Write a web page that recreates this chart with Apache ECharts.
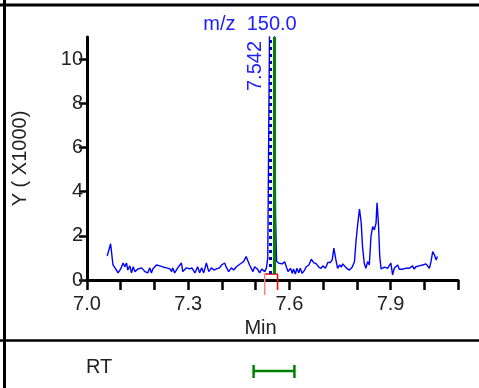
<!DOCTYPE html>
<html>
<head>
<meta charset="utf-8">
<script src="https://cdn.jsdelivr.net/npm/echarts@6/dist/echarts.min.js"></script>
<style>
  html, body { margin: 0; padding: 0; background: #fff; }
  #chart { width: 479px; height: 388px; }
</style>
</head>
<body>
<div id="chart"></div>
<script>
// 保留时间 (min)
const rtMin = [
  7.060, 7.070, 7.077, 7.085, 7.092, 7.100, 7.107, 7.112, 7.117, 7.121, 7.127, 7.132, 7.137, 7.142, 7.151,
  7.162, 7.172, 7.180, 7.186, 7.191, 7.195, 7.206, 7.216, 7.225, 7.236, 7.246, 7.251, 7.254, 7.260, 7.269,
  7.280, 7.284, 7.295, 7.305, 7.311, 7.320, 7.328, 7.334, 7.340, 7.346, 7.354, 7.361, 7.369, 7.376, 7.384,
  7.393, 7.399, 7.408, 7.413, 7.420, 7.428, 7.435, 7.443, 7.450, 7.458, 7.464, 7.472, 7.476, 7.482, 7.487,
  7.492, 7.497, 7.505, 7.512, 7.518, 7.527, 7.532, 7.536, 7.540, 7.545, 7.550, 7.555, 7.559, 7.562, 7.569,
  7.573, 7.579, 7.586, 7.591, 7.596, 7.603, 7.609, 7.612, 7.618, 7.622, 7.628, 7.632, 7.638, 7.645, 7.650,
  7.658, 7.665, 7.672, 7.680, 7.687, 7.694, 7.699, 7.707, 7.714, 7.721, 7.727, 7.732, 7.737, 7.743, 7.749,
  7.754, 7.758, 7.763, 7.770, 7.778, 7.786, 7.793, 7.798, 7.803, 7.808, 7.813, 7.817, 7.822, 7.827, 7.832,
  7.837, 7.842, 7.847, 7.852, 7.857, 7.860, 7.864, 7.868, 7.872, 7.877, 7.882, 7.887, 7.891, 7.896, 7.901,
  7.906, 7.911, 7.916, 7.921, 7.926, 7.931, 7.936, 7.941, 7.946, 7.951, 7.956, 7.961, 7.965, 7.970, 7.975,
  7.980, 7.985, 7.990, 7.995, 8.000, 8.005, 8.010, 8.015, 8.020, 8.025, 8.030, 8.035, 8.039
];
// 强度 (x1000)
const intensity = [
  1.09, 1.64, 0.68, 0.50, 0.32, 0.50, 0.77, 0.60, 0.77, 0.45, 0.64, 0.32, 0.60, 0.38, 0.50,
  0.55, 0.38, 0.32, 0.55, 0.32, 0.50, 0.68, 0.64, 0.59, 0.55, 0.50, 0.38, 0.55, 0.32, 0.55,
  0.77, 0.38, 0.55, 0.50, 0.55, 0.32, 0.60, 0.33, 0.55, 0.32, 0.77, 0.38, 0.55, 0.45, 0.50,
  0.55, 0.68, 0.77, 0.58, 0.38, 0.55, 0.45, 0.60, 0.68, 0.77, 0.83, 1.06, 0.91, 0.68, 0.60,
  0.38, 0.60, 0.50, 0.32, 0.50, 0.38, 0.55, 1.00, 9.00, 18.0, 20.0, 14.0, 3.00, 0.85, 0.76,
  0.83, 0.73, 0.83, 0.60, 0.38, 0.53, 0.30, 0.50, 0.27, 0.53, 0.33, 0.53, 0.30, 0.45, 0.60,
  0.68, 0.94, 0.79, 0.73, 0.58, 0.53, 0.64, 0.53, 0.79, 0.79, 0.91, 1.44, 0.99, 0.53, 0.68,
  0.58, 0.73, 0.64, 0.53, 0.45, 0.58, 0.83, 1.82, 2.58, 3.21, 2.58, 1.51, 0.76, 0.53, 0.83,
  0.68, 1.97, 2.42, 2.27, 2.58, 3.49, 2.58, 1.06, 0.50, 0.53, 0.58, 0.53, 0.53, 0.58, 0.76,
  0.23, 0.53, 0.45, 0.68, 0.49, 0.58, 0.49, 0.58, 0.53, 0.45, 0.53, 0.49, 0.64, 0.49, 0.60,
  0.58, 0.64, 0.60, 0.68, 0.76, 0.73, 0.68, 0.53, 0.83, 1.29, 1.14, 0.91, 1.06
];
const xTicks = [7.0, 7.1, 7.2, 7.3, 7.4, 7.5, 7.6, 7.7, 7.8, 7.9, 8.0, 8.1];
const xLabels = [7.0, 7.3, 7.6, 7.9];
const yLabels = [0, 2, 4, 6, 8, 10];
const apexRT = 7.542;
const markRT = 7.555;
const integWin = [7.527, 7.565, 0.27]; // 起点, 终点, 基线
const rtRange = [7.494, 7.615];

const font = 'Liberation Sans, Arial, sans-serif';
const chartDom = document.getElementById('chart');
const myChart = echarts.init(chartDom);

const option = {
  animation: false,
  title: {
    text: 'm/z  150.0',
    left: 245,
    top: 9,
    textAlign: 'center',
    textStyle: { color: '#2020ff', fontWeight: 'normal', fontSize: 20, fontFamily: font },
  },
  graphic: [
    { type: 'line', shape: { x1: 0, y1: 5, x2: 479, y2: 5 }, style: { stroke: '#000', lineWidth: 3 } },
    { type: 'line', shape: { x1: 4.5, y1: 0, x2: 4.5, y2: 388 }, style: { stroke: '#000', lineWidth: 3 } },
    { type: 'line', shape: { x1: 0, y1: 340.5, x2: 479, y2: 340.5 }, style: { stroke: '#000', lineWidth: 2.5 } },
    {
      type: 'text', left: 86, top: 357,
      style: { text: 'RT', fill: '#222', font: '20px ' + font },
    },
  ],
  grid: [
    { left: 87, right: 21, top: 37, bottom: 108 },
    { left: 87, right: 21, top: 361, height: 20 },
  ],
  xAxis: [
    {
      type: 'value',
      gridIndex: 0,
      min: 7.0,
      max: 8.1,
      interval: 0.1,
      name: 'Min',
      nameLocation: 'middle',
      nameGap: 37,
      nameTextStyle: { color: '#222', fontSize: 20, fontFamily: font, padding: [0, 24, 0, 0] },
      axisLine: { onZero: false, lineStyle: { color: '#000', width: 3 } },
      axisTick: { length: 10, lineStyle: { color: '#000', width: 2.5 }, customValues: xTicks },
      axisLabel: {
        color: '#222', fontSize: 20, fontFamily: font, margin: 14,
        customValues: xLabels,
        formatter: (v) => v.toFixed(1),
      },
      splitLine: { show: false },
    },
    {
      type: 'value', gridIndex: 1, min: 7.0, max: 8.1, show: false,
    },
  ],
  yAxis: [
    {
      type: 'value',
      gridIndex: 0,
      min: 0,
      max: 11,
      interval: 2,
      name: 'Y ( X1000)',
      nameLocation: 'middle',
      nameGap: 57,
      nameTextStyle: { color: '#222', fontSize: 20, fontFamily: font },
      axisLine: { show: true, lineStyle: { color: '#000', width: 3 } },
      axisTick: { show: true, length: 8, lineStyle: { color: '#000', width: 2.5 }, customValues: yLabels },
      axisLabel: { color: '#222', fontSize: 20, fontFamily: font, margin: 4, customValues: yLabels },
      splitLine: { show: false },
    },
    { type: 'value', gridIndex: 1, min: 0, max: 1, show: false },
  ],
  series: [
    {
      type: 'line',
      xAxisIndex: 0,
      yAxisIndex: 0,
      data: rtMin.map((t, i) => [t, intensity[i]]),
      showSymbol: false,
      clip: true,
      lineStyle: { color: '#0000ff', width: 1.4 },
      markLine: {
        silent: true,
        symbol: 'none',
        data: [
          [
            {
              coord: [apexRT, integWin[2]],
              lineStyle: { color: '#0000c0', width: 3, type: [3, 4] },
              label: {
                show: true, position: 'insideEndTop', distance: 4, formatter: String(apexRT),
                color: '#2020ff', fontSize: 20, fontFamily: font,
              },
            },
            { coord: [apexRT, 11] },
          ],
          [
            {
              coord: [markRT, integWin[2]],
              lineStyle: { color: '#008000', width: 3, type: 'solid' },
              label: { show: false },
            },
            { coord: [markRT, 11] },
          ],
        ],
      },
      z: 3,
    },
    {
      // 积分窗口
      type: 'custom',
      xAxisIndex: 0,
      yAxisIndex: 0,
      clip: false,
      data: [integWin],
      renderItem: (params, api) => {
        const a = api.coord([api.value(0), api.value(2)]);
        const b = api.coord([api.value(1), api.value(2)]);
        return {
          type: 'group',
          children: [
            { type: 'line', shape: { x1: a[0], y1: a[1], x2: b[0], y2: b[1] }, style: { stroke: '#ff0000', lineWidth: 1.5 } },
            { type: 'line', shape: { x1: a[0], y1: a[1], x2: a[0], y2: a[1] + 21 }, style: { stroke: '#ff8080', lineWidth: 1.5 } },
            { type: 'line', shape: { x1: b[0], y1: b[1], x2: b[0], y2: b[1] + 16 }, style: { stroke: '#ff0000', lineWidth: 1.5 } },
          ],
        };
      },
      z: 4,
    },
    {
      // RT 范围
      type: 'custom',
      xAxisIndex: 1,
      yAxisIndex: 1,
      clip: false,
      data: [rtRange],
      renderItem: (params, api) => {
        const a = api.coord([api.value(0), 0.5]);
        const b = api.coord([api.value(1), 0.5]);
        const s = { stroke: '#008000', lineWidth: 2.5 };
        return {
          type: 'group',
          children: [
            { type: 'line', shape: { x1: a[0], y1: a[1], x2: b[0], y2: b[1] }, style: s },
            { type: 'line', shape: { x1: a[0], y1: a[1] - 6, x2: a[0], y2: a[1] + 7 }, style: s },
            { type: 'line', shape: { x1: b[0], y1: b[1] - 6, x2: b[0], y2: b[1] + 7 }, style: s },
          ],
        };
      },
    },
  ],
};

myChart.setOption(option);
window.addEventListener('resize', () => {
  myChart.resize();
});
</script>
</body>
</html>
